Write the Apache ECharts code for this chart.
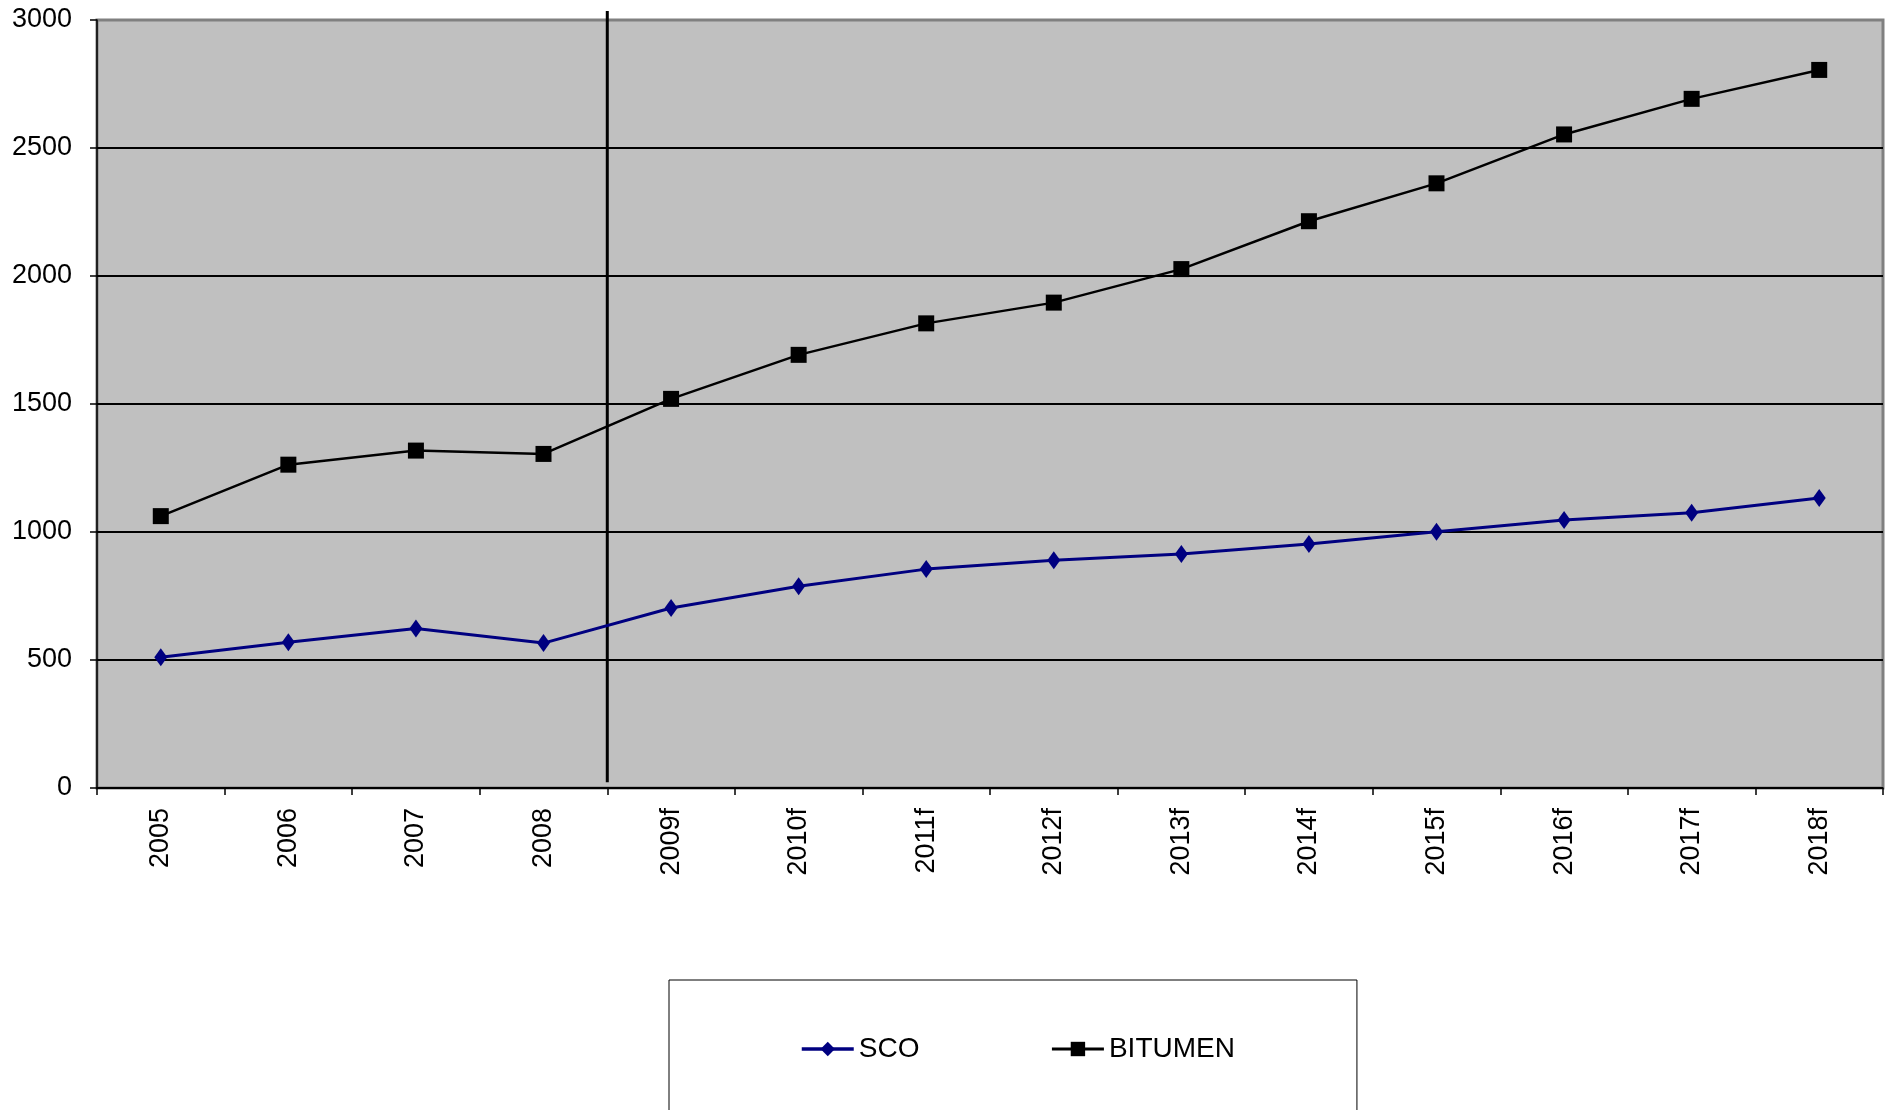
<!DOCTYPE html>
<html>
<head>
<meta charset="utf-8">
<title>SCO vs BITUMEN</title>
<script src="https://cdn.jsdelivr.net/npm/echarts@6/dist/echarts.min.js"></script>
<style>
  html, body { margin: 0; padding: 0; background: #fff; }
  #chart { width: 1886px; height: 1110px; }
</style>
</head>
<body>
<div id="chart"></div>
<script>
// categories (f = forecast)
const years = ['2005', '2006', '2007', '2008', '2009f', '2010f', '2011f',
  '2012f', '2013f', '2014f', '2015f', '2016f', '2017f', '2018f']
const sco = [511, 569, 623, 566, 703, 788, 855, 890, 914, 953, 1001, 1047, 1075, 1133]
const bitumen = [1062, 1263, 1318, 1305, 1520, 1692, 1815, 1896, 2027, 2214, 2362, 2553, 2692, 2805]
const yTicks = [0, 500, 1000, 1500, 2000, 2500, 3000]
// divider between actuals (2005-2008) and forecasts, from a bit above the top down to near the axis
const forecastStart = 4
const dividerSpan = [3035, 22]

const font = "'Liberation Sans', Arial, sans-serif"
const chart = echarts.init(document.getElementById('chart'))

chart.setOption({
  backgroundColor: '#ffffff',
  animation: false,
  grid: {
    left: 97, right: 3, top: 20, bottom: 322,
    show: true,
    backgroundColor: '#c0c0c0',
    borderColor: '#808080',
    borderWidth: 3
  },
  legend: {
    left: 669, top: 980,
    orient: 'horizontal',
    backgroundColor: '#ffffff',
    borderColor: '#000000',
    borderWidth: 1,
    borderRadius: 0,
    padding: [55, 122, 100, 131],
    itemGap: 131,
    itemWidth: 52,
    itemHeight: 18,
    textStyle: { fontFamily: font, fontSize: 28, color: '#000' },
    data: [
      { name: 'SCO', lineStyle: { width: 3.5 } },
      { name: 'BITUMEN', lineStyle: { width: 3 } }
    ]
  },
  xAxis: [{
    type: 'category',
    data: years,
    boundaryGap: true,
    axisLine: { lineStyle: { color: '#000', width: 1.5 } },
    axisTick: { show: true, length: 7, lineStyle: { color: '#000', width: 1.5 } },
    axisLabel: { rotate: 90, margin: 20, fontFamily: font, fontSize: 27, color: '#000' },
    splitLine: { show: false }
  }, {
    // helper axis for the forecast divider
    type: 'value',
    min: 0, max: years.length,
    show: false
  }],
  yAxis: {
    type: 'value',
    min: yTicks[0], max: yTicks[yTicks.length - 1], interval: 500,
    axisLine: { show: true, lineStyle: { color: '#000', width: 1.5 } },
    axisTick: { show: true, length: 7, lineStyle: { color: '#000', width: 1.5 } },
    axisLabel: {
      margin: 25, fontFamily: font, fontSize: 27, color: '#000',
      formatter: v => String(v)
    },
    splitLine: { show: true, showMaxLine: false, lineStyle: { color: '#000', width: 2 } }
  },
  series: [
    {
      name: 'SCO',
      type: 'line',
      data: sco,
      color: '#000080',
      symbol: 'diamond',
      symbolSize: [13, 18],
      lineStyle: { color: '#000080', width: 3 },
      itemStyle: { color: '#000080' },
      z: 3
    },
    {
      name: 'BITUMEN',
      type: 'line',
      data: bitumen,
      color: '#000000',
      symbol: 'rect',
      symbolSize: 16,
      lineStyle: { color: '#000000', width: 2.5 },
      itemStyle: { color: '#000000' },
      z: 3
    },
    {
      name: 'divider',
      type: 'line',
      xAxisIndex: 1,
      data: dividerSpan.map(v => [forecastStart, v]),
      clip: false,
      silent: true,
      symbol: 'none',
      lineStyle: { color: '#000', width: 3 },
      z: 2
    }
  ]
})

window.addEventListener('resize', () => {
  chart.resize()
})
</script>
</body>
</html>
